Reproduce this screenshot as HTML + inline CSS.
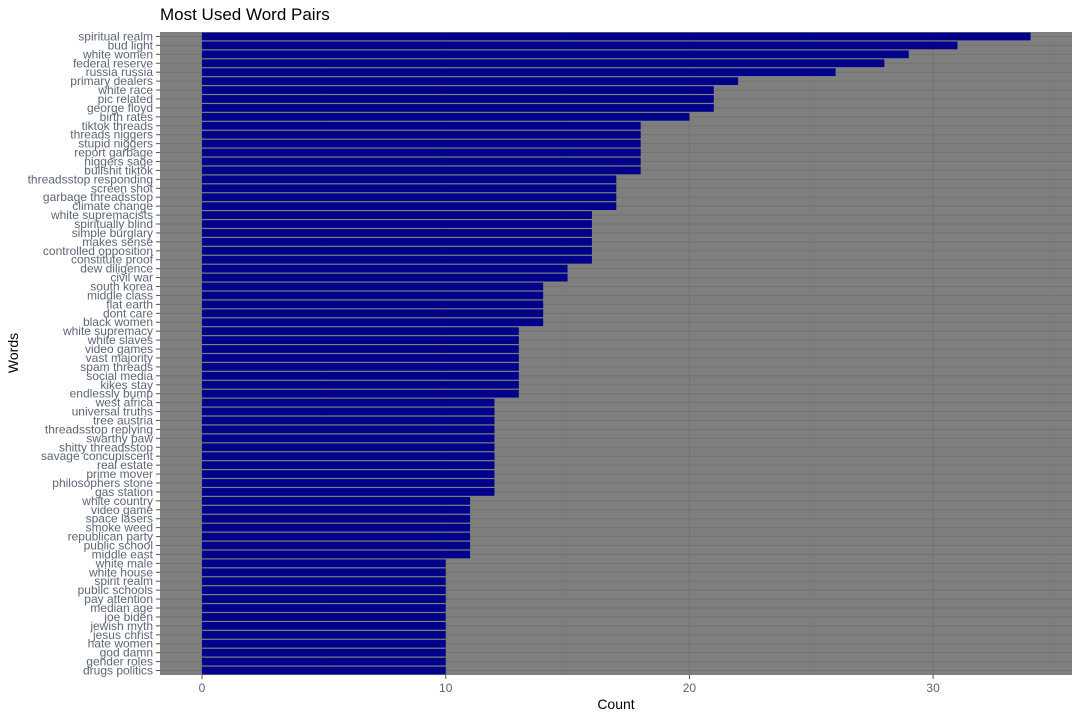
<!DOCTYPE html>
<html><head><meta charset="utf-8"><style>
body{margin:0;background:#fff;font-family:"Liberation Sans",sans-serif}
</style></head><body>
<svg id="c" width="1080" height="720"></svg>
<script>
const words=["spiritual realm","bud light","white women","federal reserve","russia russia","primary dealers","white race","pic related","george floyd","birth rates","tiktok threads","threads niggers","stupid niggers","report garbage","niggers sage","bullshit tiktok","threadsstop responding","screen shot","garbage threadsstop","climate change","white supremacists","spiritually blind","simple burglary","makes sense","controlled opposition","constitute proof","dew diligence","civil war","south korea","middle class","flat earth","dont care","black women","white supremacy","white slaves","video games","vast majority","spam threads","social media","kikes stay","endlessly bump","west africa","universal truths","tree austria","threadsstop replying","swarthy paw","shitty threadsstop","savage concupiscent","real estate","prime mover","philosophers stone","gas station","white country","video game","space lasers","smoke weed","republican party","public school","middle east","white male","white house","spirit realm","public schools","pay attention","median age","joe biden","jewish myth","jesus christ","hate women","god damn","gender roles","drugs politics"];
const counts=[34,31,29,28,26,22,21,21,21,20,18,18,18,18,18,18,17,17,17,17,16,16,16,16,16,16,15,15,14,14,14,14,14,13,13,13,13,13,13,13,13,12,12,12,12,12,12,12,12,12,12,12,11,11,11,11,11,11,11,10,10,10,10,10,10,10,10,10,10,10,10,10];
const xTicks=[0,10,20,30];
const NS="http://www.w3.org/2000/svg",svg=document.getElementById('c');
const L=160,R=1072,T=32,B=675;
const x=v=>202+v*24.37;
const band=(B-T)/words.length;
const y=i=>T+i*band;
function mk(t,a,p){const e=document.createElementNS(NS,t);for(const k in a)e.setAttribute(k,a[k]);(p||svg).appendChild(e);return e;}
const bg=mk('rect',{x:L,y:T,width:R-L,height:B-T,fill:'#7f7f7f'});


words.forEach((w,i)=>{mk('line',{x1:L,x2:R,y1:y(i)+band/2,y2:y(i)+band/2,stroke:'#727272','stroke-width':1});});
xTicks.forEach(v=>{mk('line',{x1:x(v),x2:x(v),y1:T,y2:B,stroke:'#727272','stroke-width':1});
 mk('line',{x1:x(v+5),x2:x(v+5),y1:T,y2:B,stroke:'#7a7a7a','stroke-width':0.5});});
words.forEach((w,i)=>{
 const r=mk('rect',{x:x(0),y:y(i)+0.6,width:x(counts[i])-x(0),height:band-1.2,fill:'#00008b'});
 
 
 mk('line',{x1:156,x2:160,y1:y(i)+band/2,y2:y(i)+band/2,stroke:'#555','stroke-width':1});
 const t=mk('text',{x:153,y:y(i)+band/2+4,'text-anchor':'end','font-size':12,fill:'#5d6577'});
 t.textContent=w;
 
 
});
xTicks.forEach(v=>{
 mk('line',{x1:x(v),x2:x(v),y1:B,y2:B+4,stroke:'#555','stroke-width':1});
 const t=mk('text',{x:x(v),y:B+17,'text-anchor':'middle','font-size':12,fill:'#5d6577'});
 t.textContent=v;
 
 
});
const ti=mk('text',{x:160,y:20,'font-size':17,fill:'#000'});ti.textContent='Most Used Word Pairs';


const xt=mk('text',{x:616,y:709,'text-anchor':'middle','font-size':14,fill:'#000'});xt.textContent='Count';


const yt=mk('text',{x:18,y:353,'text-anchor':'middle','font-size':14,fill:'#000',transform:'rotate(-90 18 353)'});yt.textContent='Words';


</script>
</body></html>
